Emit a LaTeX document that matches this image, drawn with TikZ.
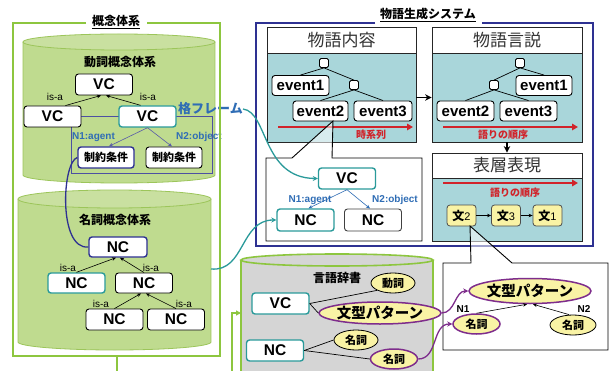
\documentclass[tikz,border=0pt]{standalone}
\usepackage{fontspec}
\setmainfont{Liberation Sans}
\newfontfamily\jp{Noto Sans CJK JP}
\usetikzlibrary{arrows.meta,shapes.geometric,calc}
\definecolor{gframe}{HTML}{8DC63F}
\definecolor{cylfill}{HTML}{BFDB8F}
\definecolor{cylline}{HTML}{9CC55A}
\definecolor{tealc}{HTML}{2A9A9A}
\definecolor{dblue}{HTML}{2E3192}
\definecolor{lblue}{HTML}{2F6DB5}
\definecolor{panelc}{HTML}{A9D6DA}
\definecolor{redc}{HTML}{D1232A}
\definecolor{yelc}{HTML}{F9F3A5}
\definecolor{purpc}{HTML}{7E2D8C}
\definecolor{grayc}{HTML}{D5D5D5}
\newcommand\fsz[1]{\fontsize{#1}{#1}\selectfont}
\tikzset{
  box/.style={draw, line width=0.9pt, rounded corners=3pt, fill=white, inner sep=0pt,
    minimum width=57, minimum height=21, font=\bfseries\fsz{15.5}},
  tealbox/.style={box, draw=tealc, line width=1.4pt},
  dbbox/.style={box, draw=dblue, line width=1.4pt},
  evbox/.style={box, font=\bfseries\fsz{15}, minimum height=20},
  cbox/.style={box, font=\jp\bfseries\fsz{11}, minimum width=56},
  sqbox/.style={draw, line width=0.8pt, rounded corners=1.5pt, fill=white, minimum size=9, inner sep=0pt},
  isa/.style={font=\fsz{10}, inner sep=0pt},
  blab/.style={font=\bfseries\fsz{10}, text=lblue, inner sep=0pt},
  oval/.style={ellipse, draw, line width=0.8pt, fill=yelc, inner sep=0pt, font=\jp\bfseries\fsz{11}},
  poval/.style={oval, draw=purpc, line width=1.5pt},
  head/.style={draw=black!85, fill=white, line width=0.8pt, inner sep=0pt, font=\jp\fsz{17}, text=black!80},
  pbody/.style={draw=black!85, fill=panelc, line width=0.8pt, inner sep=0pt},
  arr/.style={-{Stealth[length=4pt,width=3.5pt]}, line width=0.6pt},
  bigarr/.style={-{Stealth[length=6.5pt,width=6.5pt]}, line width=1.8pt},
  redarr/.style={draw=redc, line width=2pt, -{Triangle[length=6pt,width=6.5pt]}},
  redlab/.style={font=\jp\bfseries\fsz{10}, text=redc, inner sep=0pt},
  bun/.style={draw=black!70, line width=0.8pt, fill=yelc, rounded corners=3pt, inner sep=0pt,
    minimum width=29, minimum height=21},
  calloutfill/.style={fill=white, opacity=0.55},
  calloutline/.style={draw=black, line width=0.9pt},
  cyltitle/.style={font=\jp\bfseries\fsz{12}, inner sep=0pt},
}
\begin{document}
\begin{tikzpicture}[x=1pt,y=-1pt]
\fill[white] (0,0) rectangle (609,371);
\useasboundingbox (0,0) rectangle (609,371);

% ---------- cylinder 1 : 動詞概念体系 ----------
\fill[cylfill] (23,42) rectangle (215,175);
\fill[cylfill] (119,175) ellipse[x radius=96, y radius=8];
\draw[cylline, line width=0.8pt] (23,42) -- (23,175) arc[start angle=180, end angle=0, x radius=96, y radius=8] -- (215,42);
\filldraw[fill=cylfill!85!white, draw=cylline, line width=0.8pt] (119,42) ellipse[x radius=96, y radius=8];
\node[cyltitle] (t-verb) at (120,62) {動詞概念体系};

\draw[dblue!85, line width=0.9pt] (71,116) rectangle (212,173);
\node[box] (vc0) at (104,84.5) {VC};
\node[box] (vc1) at (52.5,116.5) {VC};
\node[tealbox] (vc2) at (147.5,116.5) {VC};
\draw[arr] ($(vc1.north)+(13,0)$) -- ($(vc0.south)+(-3,0)$);
\draw[arr] ($(vc2.north)+(-7,0)$) -- ($(vc0.south)+(2,0)$);
\node[isa] (isa1) at (55,97) {is-a};
\node[isa] (isa2) at (148,97) {is-a};
\node[cbox, draw=dblue, line width=1.4pt] (c1) at (106,157.5) {制約条件};
\node[cbox] (c2) at (174,157.5) {制約条件};
\draw[arr, draw=dblue!80] (vc2.south) -- ($(c1.north)+(3,0)$);
\draw[arr, draw=dblue!80] (vc2.south) -- ($(c2.north)+(-2,0)$);
\node[blab] (n1a) at (93.5,137) {N1:agent};
\node[blab, anchor=west] (n2a) at (176,137) {N2:object};
\node[font=\jp\bfseries\fsz{13}, text=lblue, inner sep=0pt, anchor=west] (kaku) at (178,109) {格フレーム};

% ---------- cylinder 2 : 名詞概念体系 ----------
\fill[cylfill] (18,199) rectangle (211,342);
\fill[cylfill] (114.5,342) ellipse[x radius=96.5, y radius=8];
\draw[cylline, line width=0.8pt] (18,199) -- (18,342) arc[start angle=180, end angle=0, x radius=96.5, y radius=8] -- (211,199);
\filldraw[fill=cylfill!85!white, draw=cylline, line width=0.8pt] (114.5,199) ellipse[x radius=96.5, y radius=9];
\node[cyltitle] (t-noun) at (115,220) {名詞概念体系};
\coordinate (cyl2e) at (211,269);

\node[dbbox, minimum width=58, minimum height=20] (nc0) at (118,247) {NC};
\node[tealbox, minimum height=20] (nc1) at (76.5,283) {NC};
\node[box, minimum height=20] (nc2) at (144,283) {NC};
\node[box] (nc3) at (114.5,319.5) {NC};
\node[box] (nc4) at (176,319.5) {NC};
\draw[arr] (nc1.north) -- ($(nc0.south)+(-2,0)$);
\draw[arr] (nc2.north) -- ($(nc0.south)+(2,0)$);
\draw[arr] (nc3.north) -- ($(nc2.south)+(-3,0)$);
\draw[arr] (nc4.north) -- ($(nc2.south)+(2,0)$);
\node[isa] (isa3) at (68,268) {is-a};
\node[isa] (isa4) at (151,268) {is-a};
\node[isa] (isa5) at (101,304) {is-a};
\node[isa] (isa6) at (184,304) {is-a};

% ---------- green frame 概念体系 ----------
\draw[gframe, line width=2pt] (86,23) -- (13,23) -- (13,356) -- (220,356) -- (220,23) -- (147,23);
\node[font=\jp\bfseries\fsz{12}, inner sep=1pt] (t-concept) at (116,22) {\underline{概念体系}};
\coordinate (fbot) at (117,356);
\coordinate (fbotend) at (117,371);
\draw[gframe, line width=2pt] (fbot) -- (fbotend);

% ---------- dictionary cylinder 言語辞書 ----------
\fill[grayc] (241,260) rectangle (433,372);
\draw[gframe, line width=1.6pt] (241,260) -- (241,372) (433,260) -- (433,372);
\filldraw[fill=grayc, draw=gframe, line width=1.6pt] (337,260) ellipse[x radius=96, y radius=6];
\node[cyltitle] (t-dict) at (337,278) {言語辞書};
\coordinate (g1) at (232,372);
\coordinate (dictw) at (241,313);
\draw[gframe, line width=1.6pt, -{Triangle[length=5pt,width=5pt]}] (g1) |- (dictw);

\node[tealbox] (vcd) at (280.5,303.5) {VC};
\node[tealbox] (ncd) at (275,350.5) {NC};
\node[oval, minimum width=44, minimum height=20] (dv) at (393,283) {動詞};
\node[poval, minimum width=94, minimum height=22, font=\jp\bfseries\fsz{14.5}] (bp) at (380,313) {文型パターン};
\node[oval, minimum width=44, minimum height=20] (dn1) at (356,340) {名詞};
\node[poval, minimum width=47, minimum height=20] (dn2) at (394,359) {名詞};
\draw[line width=0.7pt] (vcd.east) -- (dv.south west);
\draw[line width=0.7pt] (vcd.east) -- (bp.west);
\draw[line width=0.7pt] (ncd.east) -- (dn1.west);
\draw[line width=0.7pt] (ncd.east) -- (dn2.west);

% ---------- 物語生成システム ----------
\draw[dblue, line width=2.5pt] (375,23) -- (256,23) -- (256,246) -- (593,246) -- (593,23) -- (482,23);
\node[font=\jp\bfseries\fsz{12}, inner sep=0pt] (t-sys) at (428,15) {\underline{物語生成システム}};

\node[head, minimum width=149, minimum height=26] (h1) at (341.5,40) {物語内容};
\node[pbody, minimum width=149, minimum height=89] (p1) at (341.5,97.5) {};
\node[head, minimum width=150, minimum height=26] (h2) at (507,40) {物語言説};
\node[pbody, minimum width=150, minimum height=89] (p2) at (507,97.5) {};
\node[head, minimum width=150, minimum height=25] (h3) at (507,165.5) {表層表現};
\node[pbody, minimum width=150, minimum height=63] (p3) at (507,209.5) {};
\draw[bigarr] (p1.east) -- (p2.west);
\draw[bigarr] (p2.south) -- (h3.north);

% panel 1
\node[sqbox] (sq1) at (324,63) {};
\node[sqbox] (sq2) at (354,85) {};
\node[evbox] (e1) at (300.5,85.5) {event1};
\node[evbox, minimum width=55] (e2) at (320.5,111) {event2};
\node[evbox, minimum width=58] (e3) at (383,111) {event3};
\draw[line width=0.7pt] (sq1.south) -- (e1.north) (sq1.south) -- (sq2.north)
  (sq2.south) -- (e2.north) (sq2.south) -- (e3.north);
\coordinate (r1a) at (278,127);
\coordinate (r1b) at (413,127);
\draw[redarr] (r1a) -- (r1b);
\node[redlab] (lab-ts) at (371,135) {時系列};

% panel 2
\node[sqbox] (sq3) at (520,63) {};
\node[sqbox] (sq4) at (494,85) {};
\node[evbox, minimum width=56] (e4) at (544,85.5) {event1};
\node[evbox] (e5) at (465.5,111) {event2};
\node[evbox] (e6) at (528.5,111) {event3};
\draw[line width=0.7pt] (sq3.south) -- (e4.north) (sq3.south) -- (sq4.north)
  (sq4.south) -- (e5.north) (sq4.south) -- (e6.north);
\coordinate (r2a) at (443,127);
\coordinate (r2b) at (578,127);
\draw[redarr] (r2a) -- (r2b);
\node[redlab] (lab-ko1) at (503,135) {語りの順序};

% panel 3
\coordinate (r3a) at (443,183);
\coordinate (r3b) at (578,183);
\draw[redarr] (r3a) -- (r3b);
\node[redlab] (lab-ko2) at (515,193) {語りの順序};
\node[bun] (s2) at (461.5,215.5) {{\jp\bfseries\fsz{12}文}{\fsz{11}2}};
\node[bun] (s3) at (506,215.5) {{\jp\bfseries\fsz{12}文}{\fsz{11}3}};
\node[bun] (s1) at (547.5,215.5) {{\jp\bfseries\fsz{12}文}{\fsz{11}1}};
\draw[arr] (s2.east) -- (s3.west);
\draw[arr] (s3.east) -- (s1.west);

% callout 1 (case frame of event2)
\fill[calloutfill] (266,158) -- (292,158) -- (333,121) -- (332,158) -- (422,158) -- (422,241) -- (266,241) -- cycle;
\draw[calloutline] (266,158) -- (292,158) -- (333,121) -- (332,158) -- (422,158) -- (422,241) -- (266,241) -- cycle;
\node[tealbox] (vcm) at (347,178.5) {VC};
\node[tealbox, minimum height=22] (ncm1) at (305.5,220) {NC};
\node[box, minimum height=22, draw=black!75] (ncm2) at (373,220) {NC};
\draw[arr, draw=lblue] (vcm.south) -- ($(ncm1.north)+(3,0)$);
\draw[arr, draw=lblue] (vcm.south) -- ($(ncm2.north)+(-3,0)$);
\node[blab] (n1b) at (310,200) {N1:agent};
\node[blab] (n2b) at (395,200) {N2:object};

% callout 2 (sentence pattern of 文2)
\fill[calloutfill] (443,263) -- (471,263) -- (470,226) -- (512,263) -- (608,263) -- (608,350) -- (443,350) -- cycle;
\draw[calloutline] (443,263) -- (471,263) -- (470,226) -- (512,263) -- (608,263) -- (608,350) -- (443,350) -- cycle;
\node[poval, minimum width=94, minimum height=25, font=\jp\bfseries\fsz{14.5}] (bp2) at (530,291) {文型パターン};
\node[poval, minimum width=47, minimum height=20] (rn1) at (476.5,324) {名詞};
\node[oval, minimum width=46, minimum height=20] (rn2) at (573,325) {名詞};
\draw[arr] (rn1.north) -- ($(bp2.south)+(-3,0)$);
\draw[arr] ($(rn2.north)+(-4,0)$) -- ($(bp2.south)+(3,0)$);
\node[font=\bfseries\fsz{10}, inner sep=0pt] (lN1) at (463,309) {N1};
\node[font=\bfseries\fsz{10}, inner sep=0pt] (lN2) at (584,309) {N2};

% ---------- curves ----------
\draw[dblue, line width=1.3pt] (c1.west) .. controls (62,162) and (58,250) .. (nc0.west);
\draw[tealc, line width=1.3pt, -{Stealth[length=5pt,width=5pt]}] (kaku.east) .. controls (268,112) and (262,178) .. (vcm.west);
\draw[tealc, line width=1.3pt, -{Stealth[length=5pt,width=5pt]}] (cyl2e) .. controls (245,272) and (240,220) .. (ncm1.west);
\draw[purpc, line width=1.3pt, -{Stealth[length=5pt,width=5pt]}] (bp.east) .. controls (455,313) and (455,291) .. (bp2.west);
\draw[purpc, line width=1.3pt, -{Stealth[length=5pt,width=5pt]}] (dn2.east) .. controls (438,359) and (432,324) .. (rn1.west);
\end{tikzpicture}
\end{document}
